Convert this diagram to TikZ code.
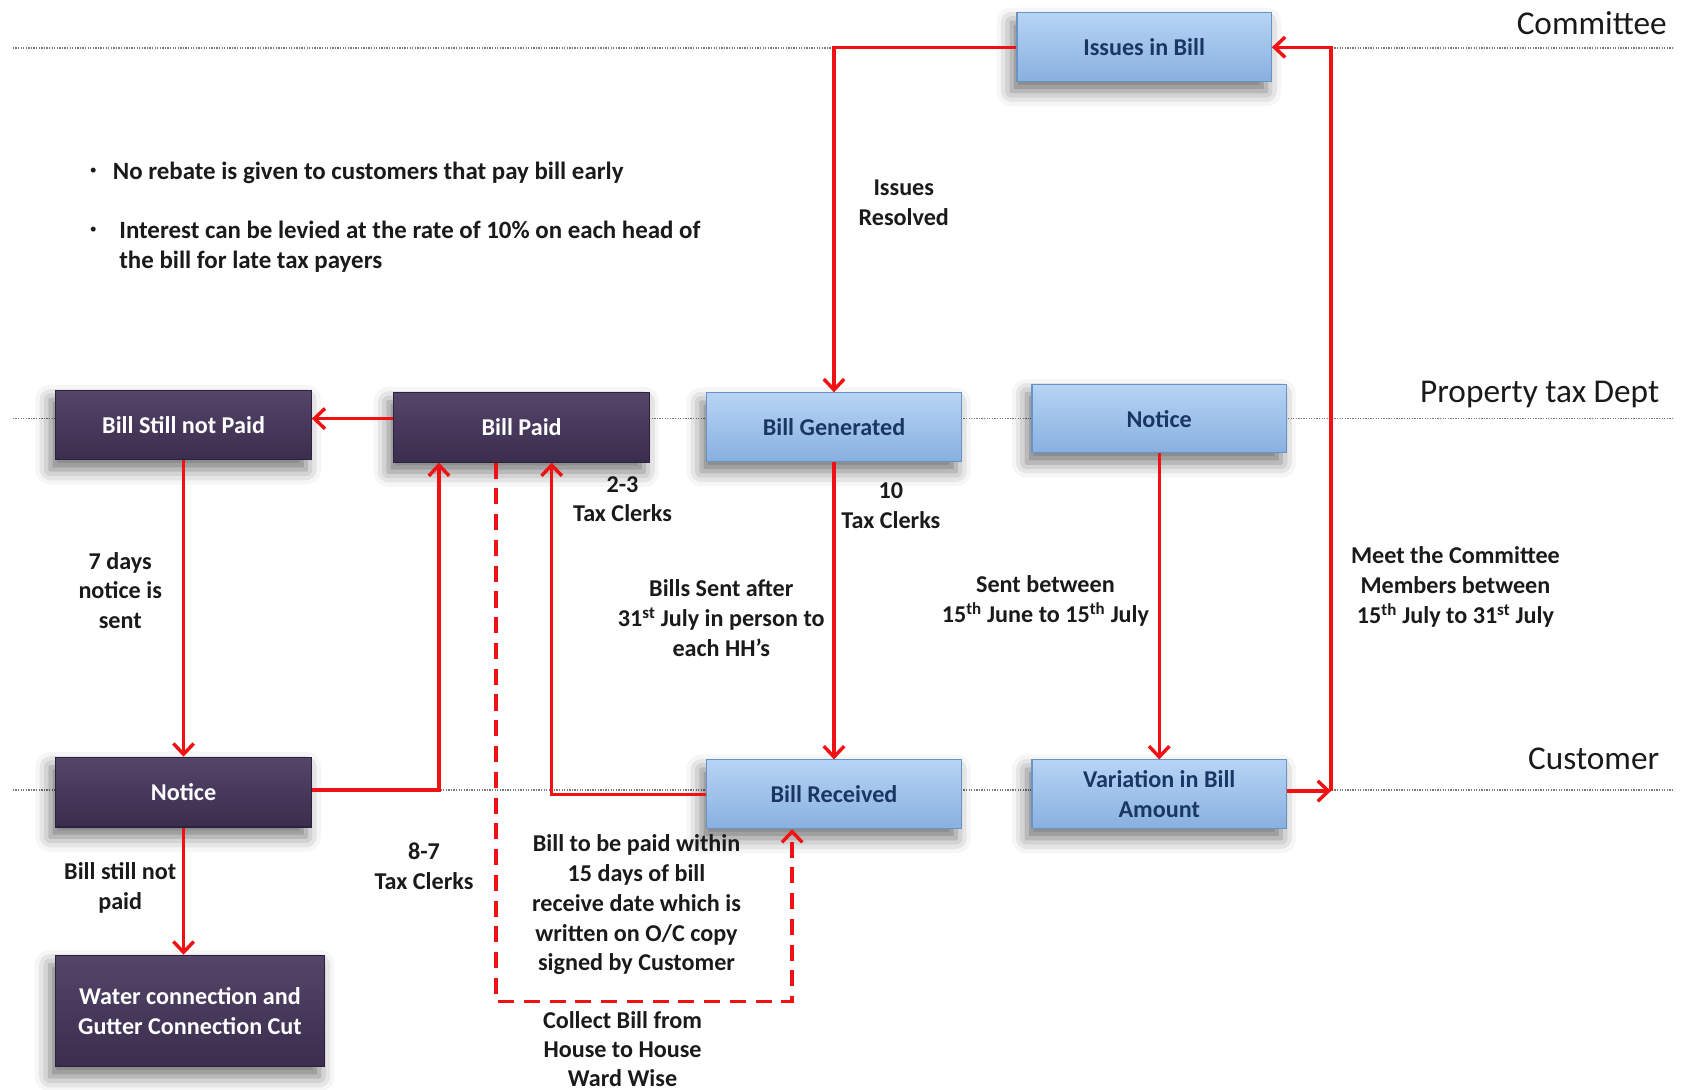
\documentclass[tikz,border=0pt]{standalone}
\usepackage{fontspec}
\setmainfont{Carlito}
\usetikzlibrary{arrows.meta,shadows.blur}

\definecolor{bluetop}{HTML}{B6D4F5}
\definecolor{bluebot}{HTML}{88B0DF}
\definecolor{blueedge}{HTML}{6A92C3}
\definecolor{navytext}{HTML}{1A3764}
\definecolor{plumtop}{HTML}{54456A}
\definecolor{plumbot}{HTML}{3B2D4D}
\definecolor{plumedge}{HTML}{2C2240}
\definecolor{flowred}{HTML}{F01212}
\definecolor{lanegray}{HTML}{7A7A7A}
\definecolor{inkblack}{HTML}{1A1A1A}

\newcommand\bxfont{\fontsize{22.5}{27.5}\selectfont\bfseries}
\newcommand\lblfont{\fontsize{22.5}{27.7}\selectfont\bfseries}
\newcommand\notefont{\fontsize{23.2}{28}\selectfont\bfseries}
\newcommand\lanefont{\fontsize{31}{36}\selectfont}

\tikzset{
  boxshadow/.style={blur shadow={shadow xshift=-5pt, shadow yshift=-9pt,
      shadow blur radius=14pt, shadow opacity=55}},
  bluebox/.style={rectangle, draw=blueedge, line width=1pt,
      top color=bluetop, bottom color=bluebot, text=navytext, font=\bxfont,
      minimum width=237pt, minimum height=64pt, align=center, inner sep=0pt,
      boxshadow},
  plumbox/.style={rectangle, draw=plumedge, line width=1pt,
      top color=plumtop, bottom color=plumbot, text=white, font=\bxfont,
      minimum width=238pt, minimum height=65pt, align=center, inner sep=0pt,
      boxshadow},
  lbl/.style={font=\lblfont, text=inkblack, align=center, inner sep=0pt},
  note/.style={font=\notefont, text=inkblack, align=left, inner sep=0pt},
  bulletmark/.style={font=\fontsize{13}{13}\selectfont, text=inkblack, inner sep=0pt},
  lanelbl/.style={font=\lanefont, text=inkblack, inner sep=0pt, anchor=east},
  lane/.style={draw=lanegray, line width=1.6pt, dash pattern=on 1.2pt off 1.2pt},
  flow/.style={draw=flowred, line width=3.2pt,
      -{Straight Barb[length=10pt,width=19pt]}},
  collect/.style={flow, dash pattern=on 15pt off 9pt},
}

\begin{document}
\begin{tikzpicture}[x=1pt,y=-1pt]
\useasboundingbox (0,0) rectangle (1568,1015);

% swim-lane separators
\draw[lane] (12,45) -- (1560,45);
\draw[lane] (12,390) -- (1560,390);
\draw[lane] (12,736) -- (1560,736);

% lane titles
\node[lanelbl] (tCommittee) at (1553,22) {Committee};
\node[lanelbl] (tDept) at (1546,368) {Property tax Dept};
\node[lanelbl] (tCustomer) at (1546,707) {Customer};

% notes
\node[bulletmark] (dot1) at (87,160) {•};
\node[note, anchor=west] (note1) at (105,161)
  {No rebate is given to customers that pay bill early};
\node[bulletmark] (dot2) at (87,215) {•};
\node[note, anchor=west] (note2) at (111,230)
  {Interest can be levied at the rate of 10\% on each head of\\the bill for late tax payers};

% process boxes
\node[bluebox] (issues) at (1066,44) {Issues in Bill};
\node[bluebox] (gen) at (777,398) {Bill Generated};
\node[bluebox] (bnotice) at (1080,390) {Notice};
\node[bluebox] (rec) at (777,740) {Bill Received};
\node[bluebox] (var) at (1080,740) {Variation in Bill\\Amount};

\node[plumbox] (still) at (171,396) {Bill Still not Paid};
\node[plumbox] (paid) at (486,398) {Bill Paid};
\node[plumbox] (pnotice) at (171,738) {Notice};
\node[plumbox, minimum width=251pt, minimum height=104pt] (water) at (177,942)
  {Water connection and\\Gutter Connection Cut};

% connectors
\coordinate (turn) at (1240,737);
\draw[flow] (issues.west) -| (gen.north);
\draw[flow] (var.east |- turn) -- (turn);
\draw[flow] (turn) |- (issues.east);
\draw[flow] (gen.south) -- (rec.north);
\draw[flow] (bnotice.south) -- (var.north);
\draw[flow] (rec.west) -| ([xshift=28pt]paid.south);
\draw[flow] (pnotice.east |- 0,736) -| ([xshift=-77pt]paid.south);
\draw[flow] (paid.west |- 0,390) -- (still.east |- 0,390);
\draw[flow] (still.south) -- (pnotice.north);
\draw[flow] (pnotice.south) -- (pnotice.south |- water.north);
\draw[collect] ([xshift=-24pt]paid.south) -- ++(0,502) -| ([xshift=-39pt]rec.south);

% connector notes
\node[lbl] (lResolved) at (842,189) {Issues\\Resolved};
\node[lbl] (lClerks23) at (580,465) {2-3\\Tax Clerks};
\node[lbl] (lClerks10) at (830,471) {10\\Tax Clerks};
\node[lbl] (lSent) at (672,576) {Bills Sent after\\31\textsuperscript{st} July in person to\\each HH’s};
\node[lbl] (lBetween) at (974,560) {Sent between\\15\textsuperscript{th} June to 15\textsuperscript{th} July};
\node[lbl] (lMeet) at (1356,547) {Meet the Committee\\Members between\\15\textsuperscript{th} July to 31\textsuperscript{st} July};
\node[lbl] (lSeven) at (112,550) {7 days\\notice is\\sent};
\node[lbl] (lClerks87) at (395,807) {8-7\\Tax Clerks};
\node[lbl] (lStill) at (112,827) {Bill still not\\paid};
\node[lbl] (lWithin) at (593,843) {Bill to be paid within\\15 days of bill\\receive date which is\\written on O/C copy\\signed by Customer};
\node[lbl, font=\fontsize{22.5}{27}\selectfont\bfseries] (lCollect) at (580,977) {Collect Bill from\\House to House\\Ward Wise};
\end{tikzpicture}
\end{document}
